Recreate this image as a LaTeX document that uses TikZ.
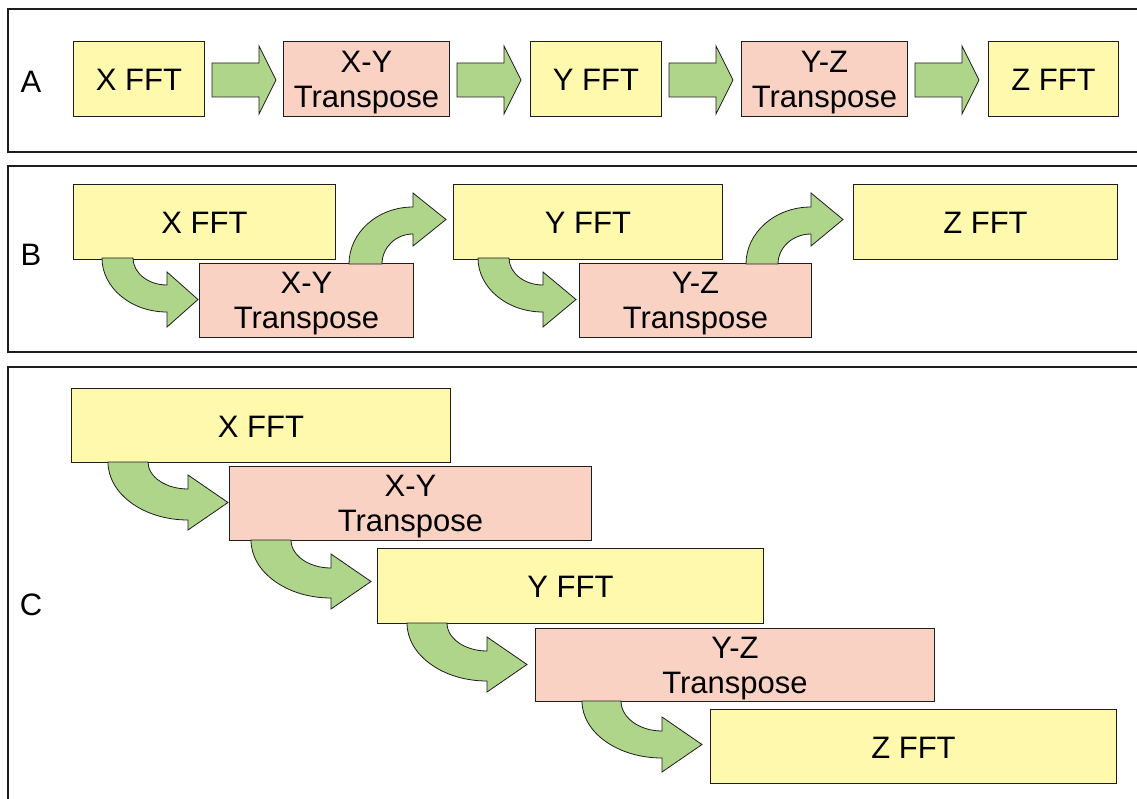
\documentclass[tikz,border=0pt]{standalone}
\usepackage{fontspec}
\setmainfont{Liberation Sans}
\definecolor{fftyellow}{RGB}{255,249,174}
\definecolor{tppink}{RGB}{250,210,195}
\definecolor{flowgreen}{RGB}{175,213,138}
\definecolor{edge}{RGB}{30,30,30}

% block node: name, x1, y1, x2, y2, style, text (text set by a second node centred on the box)
\newcommand\blk[7]{\node[#6, minimum width={(#4-#2)*1pt}, minimum height={(#5-#3)*1pt}] (#1) at (#2,#3) {};
  \node[#6 text] (#1-text) at (#1.center) {#7};}
% straight block arrow: left x, centre y
\newcommand\fwdarrow[2]{\draw[flow] ({#1},{#2-17}) -- ({#1+47},{#2-17}) -- ({#1+47},{#2-34}) -- ({#1+64},{#2}) -- ({#1+47},{#2+34}) -- ({#1+47},{#2+17}) -- ({#1},{#2+17}) -- cycle;}
% curved block arrow bending downwards: cx, cy, rx outer, rx inner, ry outer, ry inner, head near, head far, tip x
\newcommand\bentdown[9]{\draw[flow]
  ({#1-#3},{#2}) .. controls ({#1-#3},{#2+0.5523*#5}) and ({#1-0.5523*#3},{#2+#5}) .. ({#1},{#2+#5})
  -- ({#1},{#2+#8}) -- ({#9},{#2+0.5*(#7+#8)}) -- ({#1},{#2+#7}) -- ({#1},{#2+#6})
  .. controls ({#1-0.5523*#4},{#2+#6}) and ({#1-#4},{#2+0.5523*#6}) .. ({#1-#4},{#2}) -- cycle;}
% curved block arrow bending upwards: same arguments
\newcommand\bentup[9]{\draw[flow]
  ({#1-#3},{#2}) .. controls ({#1-#3},{#2-0.5523*#5}) and ({#1-0.5523*#3},{#2-#5}) .. ({#1},{#2-#5})
  -- ({#1},{#2-#8}) -- ({#9},{#2-0.5*(#7+#8)}) -- ({#1},{#2-#7}) -- ({#1},{#2-#6})
  .. controls ({#1-0.5523*#4},{#2-#6}) and ({#1-#4},{#2-0.5523*#6}) .. ({#1-#4},{#2}) -- cycle;}

\begin{document}
\begin{tikzpicture}[x=1pt,y=-1pt,
  box/.style={draw=edge, line width=1pt, inner sep=0pt, anchor=north west},
  fftbox/.style={box, fill=fftyellow},
  tpbox/.style={box, fill=tppink},
  label text/.style={inner sep=0pt, align=center, font=\fontsize{31}{35}\selectfont},
  fftbox text/.style={label text, yshift=-1pt},
  tpbox text/.style={label text, yshift=-3.5pt},
  flow/.style={draw=edge, line width=0.8pt, fill=flowgreen, line join=miter},
  panel/.style={draw=edge, line width=1.5pt},
  tag/.style={font=\fontsize{31}{35}\selectfont, inner sep=0pt}]

\useasboundingbox (0,0) rectangle (1137,799);
\clip (0,0) rectangle (1137,799);
\fill[white] (0,0) rectangle (1137,799);

% panels
\draw[panel] (8,9) rectangle (1150,152);
\draw[panel] (8,166) rectangle (1150,352);
\draw[panel] (8,367) rectangle (1150,815);
\node[tag] (labA) at (31,82) {A};
\node[tag] (labB) at (31,255) {B};
\node[tag] (labC) at (31,605) {C};

% A: sequential
\blk{ax}{73}{41}{204}{116}{fftbox}{X FFT}
\blk{axy}{283}{41}{449}{116}{tpbox}{X-Y\\Transpose}
\blk{ay}{530}{41}{661}{116}{fftbox}{Y FFT}
\blk{ayz}{741}{41}{907}{116}{tpbox}{Y-Z\\Transpose}
\blk{az}{988}{41}{1118}{116}{fftbox}{Z FFT}
\fwdarrow{212}{80}
\fwdarrow{457}{80}
\fwdarrow{669}{80}
\fwdarrow{915}{80}

% B: transpose overlapped with the next FFT
\blk{bx}{73}{184}{335}{259}{fftbox}{X FFT}
\blk{bxy}{199}{263}{413}{337}{tpbox}{X-Y\\Transpose}
\blk{by}{453}{184}{722}{259}{fftbox}{Y FFT}
\blk{byz}{579}{263}{811}{337}{tpbox}{Y-Z\\Transpose}
\blk{bz}{853}{184}{1117}{259}{fftbox}{Z FFT}
\bentdown{167}{258}{65}{34}{54}{27}{14}{69}{198}
\bentdown{543}{258}{65}{34}{54}{27}{14}{69}{576}
\bentup{413}{264}{64}{31}{57}{30}{18}{71}{446}
\bentup{811}{264}{65}{33}{57}{30}{18}{71}{843}

% C: fully pipelined
\blk{cx}{71}{388}{450}{462}{fftbox}{X FFT}
\blk{cxy}{229}{466}{591}{540}{tpbox}{X-Y\\Transpose}
\blk{cy}{377}{548}{763}{623}{fftbox}{Y FFT}
\blk{cyz}{535}{628}{934}{701}{tpbox}{Y-Z\\Transpose}
\blk{cz}{710}{709}{1116}{783}{fftbox}{Z FFT}
\bentdown{188}{462}{80}{40}{58}{27}{13}{68}{228}
\bentdown{331}{540}{80}{40}{58}{28}{14}{69}{371}
\bentdown{487}{623}{80}{40}{58}{28}{14}{69}{527}
\bentdown{662}{701}{80}{41}{57}{30}{16}{71}{702}
\end{tikzpicture}
\end{document}
